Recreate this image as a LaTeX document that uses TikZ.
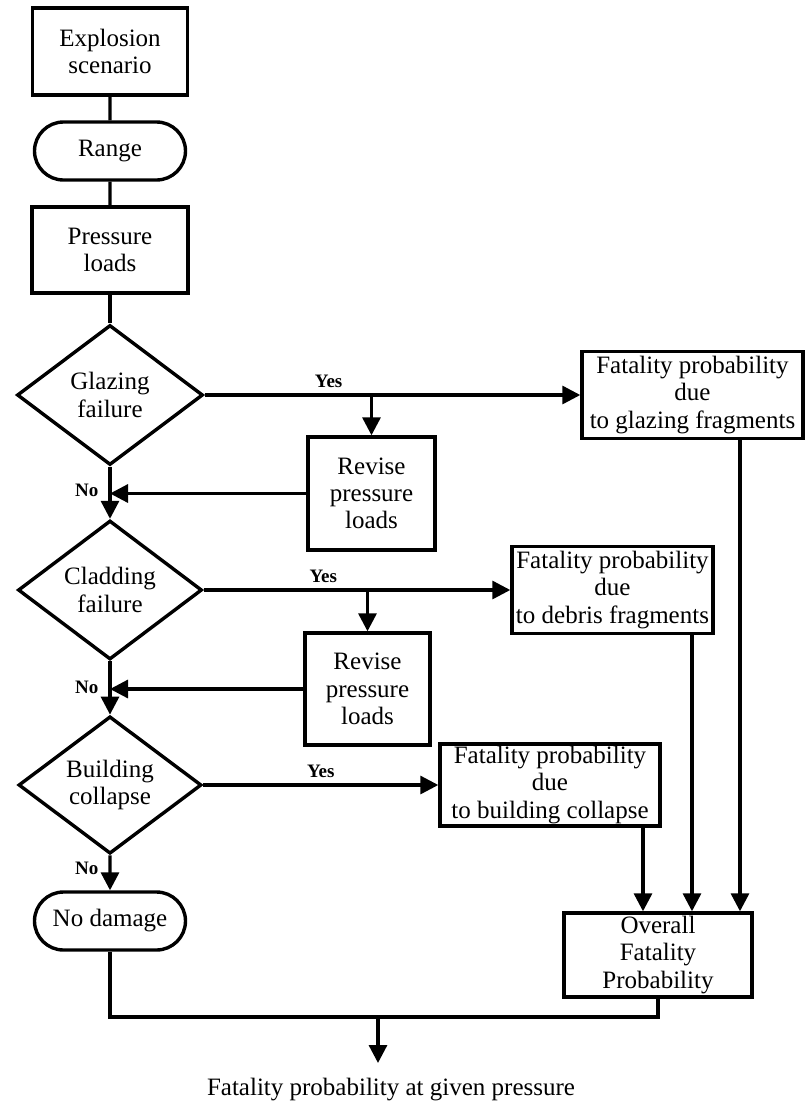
\documentclass[tikz,border=0pt]{standalone}
\usepackage{fontspec}
\setmainfont{Liberation Serif}
\usetikzlibrary{shapes.geometric,shapes.misc,arrows.meta,calc}
\begin{document}
\begin{tikzpicture}[x=0.5pt,y=-0.5pt,
  every node/.style={font=\fontsize{12.5}{13.6}\selectfont, align=center, inner sep=1pt},
  box/.style={draw, line width=1.7pt, rectangle},
  pill/.style={draw, line width=1.7pt, rounded rectangle},
  decision/.style={draw, line width=1.7pt, diamond, inner sep=0pt},
  link/.style={line width=1.6pt},
  arr/.style={link, -{Triangle[length=9pt,width=9pt]}},
  tag/.style={font=\bfseries\fontsize{9.5}{11}\selectfont, inner sep=0pt}]

\path[use as bounding box] (0,0) rectangle (805,1105);

% main column
\node[box, minimum width=77.5pt, minimum height=43.5pt] (expl) at (110,51.5) {Explosion\\scenario};
\node[pill, minimum width=77.5pt, minimum height=29pt] (range) at (110,151) {Range};
\node[box, minimum width=78pt, minimum height=43pt] (press) at (110,250) {Pressure\\loads};
\node[decision, minimum width=93pt, minimum height=70pt] (glaze) at (110,395) {Glazing\\failure};
\node[decision, minimum width=92pt, minimum height=69.5pt] (clad) at (110,590) {Cladding\\failure};
\node[decision, minimum width=91.5pt, minimum height=67pt] (build) at (110,785) {Building\\collapse};
\node[pill, minimum width=77.5pt, minimum height=29pt] (nodmg) at (110,921) {No damage};

% revision boxes
\node[box, minimum width=63.5pt, minimum height=56.5pt] (rev1) at (371.5,493.5) {Revise\\pressure\\loads};
\node[box, minimum width=62.5pt, minimum height=56pt] (rev2) at (367.5,689) {Revise\\pressure\\loads};

% fatality boxes
\node[box, minimum width=110.5pt, minimum height=43.5pt] (gfat) at (692.5,395) {Fatality probability\\due\\to glazing fragments};
\node[box, minimum width=100.5pt, minimum height=43.5pt] (dfat) at (612.5,590) {Fatality probability\\due\\to debris fragments};
\node[box, minimum width=110pt, minimum height=41pt] (bfat) at (550,785) {Fatality probability\\due\\to building collapse};
\node[box, minimum width=94pt, minimum height=42pt] (overall) at (658,955) {Overall\\Fatality\\Probability};

\node[anchor=north, inner sep=0pt] (result) at (391,1078) {Fatality probability at given pressure};

% main flow
\draw[link] (expl) -- (range);
\draw[link] (range) -- (press);
\draw[link] (press) -- (glaze);
\draw[arr] (glaze) -- node[tag, left=5pt, pos=0.45] {No} (clad);
\draw[arr] (clad) -- node[tag, left=5pt, pos=0.49] {No} (build);
\draw[arr] (build) -- node[tag, left=5pt, pos=0.37] {No} (nodmg);

% yes branches
\draw[arr] (glaze.east) -- node[tag, above=3pt, pos=0.33] {Yes} (gfat.west);
\draw[arr] (clad.east) -- node[tag, above=3pt, pos=0.39] {Yes} (dfat.west);
\draw[arr] (build.east) -- node[tag, above=3pt, pos=0.5] {Yes} (bfat.west);

% revised loads fed back
\draw[arr] (rev1.north |- glaze.east) -- (rev1.north);
\draw[arr] (rev1.west) -- (rev1.west -| glaze.south);
\draw[arr] (rev2.north |- clad.east) -- (rev2.north);
\draw[arr] (rev2.west) -- (rev2.west -| clad.south);

% fatality contributions
\coordinate (g1) at ($(gfat.south)+(47.5,0)$);
\coordinate (d1) at ($(dfat.south)+(79.5,0)$);
\coordinate (b1) at ($(bfat.south)+(93,0)$);
\draw[arr] (g1) -- (g1 |- overall.north);
\draw[arr] (d1) -- (d1 |- overall.north);
\draw[arr] (b1) -- (b1 |- overall.north);

% combined outcome
\coordinate (join) at (378,1017);
\draw[link] (nodmg.south) -- (nodmg.south |- join) -| (overall.south);
\draw[arr] (join) -- ([yshift=7.5pt]result.north -| join);

\end{tikzpicture}
\end{document}
